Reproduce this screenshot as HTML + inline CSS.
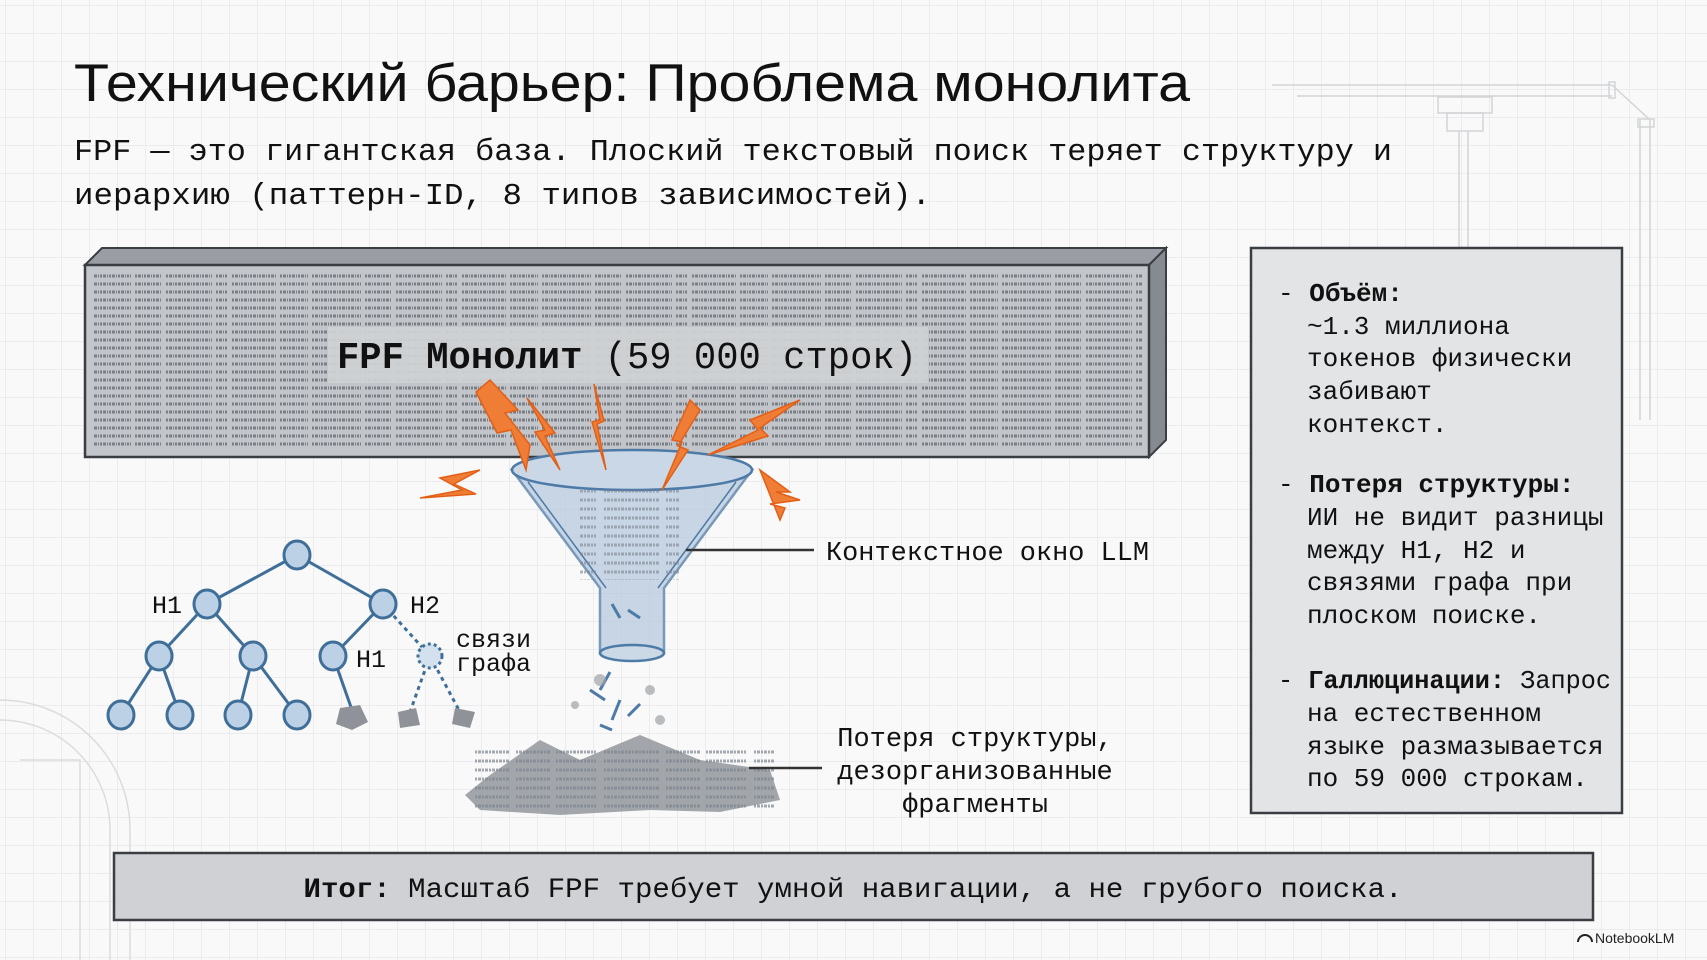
<!DOCTYPE html>
<html><head><meta charset="utf-8"><style>
html,body{margin:0;padding:0;background:#f9f9f9;}
svg{display:block}
.m{font-family:"Liberation Mono","DejaVu Sans Mono",monospace;}
.s{font-family:"Liberation Sans","DejaVu Sans",sans-serif;}
</style></head><body>
<svg width="1707" height="960" viewBox="0 0 1707 960" xmlns="http://www.w3.org/2000/svg">
<defs>
<pattern id="g" width="28" height="28" patternUnits="userSpaceOnUse" x="6" y="6">
<path d="M28 0V28H0" fill="none" stroke="#e3e4e6" stroke-width="1.2"/></pattern>
<pattern id="tx" width="230" height="8" patternUnits="userSpaceOnUse">
<rect width="230" height="8" fill="#c2c5ca"/>
<path d="M2 4H46M50 4H78M82 4H131M135 4H162M166 4H212M216 4H228" stroke="#7a7f86" stroke-width="3" stroke-dasharray="2 1 3 1 1 1"/></pattern>
<pattern id="tx2" width="150" height="9" patternUnits="userSpaceOnUse">
<path d="M4 5H60M66 5H100M106 5H146" stroke="#7d8590" stroke-width="3" stroke-dasharray="2 1 3 1"/></pattern>
</defs>
<rect width="1707" height="960" fill="#f9f9f9"/>
<rect width="1707" height="960" fill="url(#g)"/>
<g fill="none" stroke="#d2d4d6" stroke-width="1.5">
<path d="M1272 85H1612M1297 96H1612"/>
<rect x="1438" y="97" width="54" height="16"/><rect x="1447" y="113" width="36" height="18"/>
<path d="M1459 131V380M1468 131V380M1612 85L1650 120V420M1640 120V420"/>
<rect x="1609" y="82" width="6" height="16"/><rect x="1638" y="119" width="16" height="8"/>
</g>
<g fill="none" stroke="#dadcde" stroke-width="1.5">
<path d="M0 700A130 130 0 0 1 130 830V960M0 720A110 110 0 0 1 110 830V960M20 760H80V960"/>
</g>
<text x="74" y="101" class="s" font-size="53" fill="#111" textLength="1116" lengthAdjust="spacingAndGlyphs">Технический барьер: Проблема монолита</text>
<text x="74" y="160" class="m" font-size="31" fill="#111" textLength="1318" lengthAdjust="spacingAndGlyphs">FPF — это гигантская база. Плоский текстовый поиск теряет структуру и</text>
<text x="74" y="204" class="m" font-size="31" fill="#111" textLength="857" lengthAdjust="spacingAndGlyphs">иерархию (паттерн-ID, 8 типов зависимостей).</text>
<polygon points="85,265 102,248 1166,248 1149,265" fill="#9a9ea4" stroke="#3a3d42" stroke-width="2"/>
<polygon points="1149,265 1166,248 1166,440 1149,457" fill="#868a91" stroke="#3a3d42" stroke-width="2"/>
<rect x="85" y="265" width="1064" height="192" fill="#c2c5ca"/>
<rect x="93" y="270" width="1050" height="180" fill="url(#tx)"/>
<rect x="85" y="265" width="1064" height="192" fill="none" stroke="#3a3d42" stroke-width="2.5"/>
<rect x="328" y="327" width="600" height="56" fill="#cfd1d4" opacity="0.92"/>
<text x="337" y="368" class="m" font-size="38" fill="#111" textLength="580" lengthAdjust="spacingAndGlyphs"><tspan font-weight="bold">FPF Монолит</tspan> (59 000 строк)</text>
<path d="M512 470L600 588V653H664V588L752 470Z" fill="#b7c9dd" opacity="0.75" stroke="#4d7aa6" stroke-width="2.5"/>
<ellipse cx="632" cy="470" rx="120" ry="20" fill="#c9d7e6" stroke="#4d7aa6" stroke-width="2.5"/>
<path d="M528 482L606 588M736 482L658 588" stroke="#4d7aa6" stroke-width="1.5" fill="none"/>
<ellipse cx="632" cy="653" rx="32" ry="8" fill="#cbd8e6" stroke="#4d7aa6" stroke-width="2.5"/>
<rect x="580" y="490" width="100" height="90" fill="url(#tx2)" opacity="0.6"/>
<g fill="#ef7d36" stroke="#e35f16" stroke-width="1.5">
<polygon points="490,380 518,410 505,413 530,445 526,470 511,430 497,433 476,392"/>
<polygon points="527,398 545,430 535,432 560,470 545,436 555,433"/>
<polygon points="594,384 600,420 592,422 606,470 597,424 604,421"/>
<polygon points="690,400 672,440 682,442 662,490 688,450 678,446 700,410"/>
<polygon points="800,400 750,420 758,430 708,455 768,436 760,428"/>
<polygon points="480,470 440,478 462,490 420,498 476,494 454,484"/>
<polygon points="760,470 790,492 776,492 800,500 770,504 785,508 780,520 768,490"/>
</g>
<g stroke="#4d7aa6" stroke-width="3">
<path d="M612 604L620 618M628 610L640 618M610 672L600 690M590 690L605 700M620 700L612 720M628 716L640 704M600 725L612 730"/>
</g>
<g fill="#8c9096" opacity="0.8">
<polygon points="490,775 540,740 580,760 640,735 700,760 770,770 780,800 720,812 650,810 560,815 480,810 465,795"/>
</g>
<rect x="475" y="750" width="300" height="60" fill="url(#tx2)" opacity="0.7"/>
<g fill="#a0a4a9" opacity="0.7"><circle cx="600" cy="680" r="6"/><circle cx="650" cy="690" r="5"/><circle cx="575" cy="705" r="4"/><circle cx="660" cy="720" r="5"/></g>
<path d="M686 550H814M749 768H822" stroke="#333" stroke-width="2.5"/>
<text x="826" y="560" class="m" font-size="27" fill="#111" textLength="323" lengthAdjust="spacingAndGlyphs">Контекстное окно LLM</text>
<g class="m" font-size="27" fill="#111" text-anchor="middle">
<text x="975" y="746">Потеря структуры,</text>
<text x="975" y="779">дезорганизованные</text>
<text x="975" y="812">фрагменты</text>
</g>
<g stroke="#3f6f99" stroke-width="3" fill="none">
<path d="M297 555L207 604M297 555L383 604M207 604L159 656M207 604L253 656M383 604L333 656M159 656L121 715M159 656L180 715M253 656L238 715M253 656L297 715M333 656L352 710"/>
<path d="M383 604L430 656M430 656L410 712M430 656L460 712" stroke-dasharray="4 4"/>
</g>
<g fill="#bdd1e6" stroke="#3f6f99" stroke-width="3">
<ellipse cx="297" cy="555" rx="13" ry="14"/><ellipse cx="207" cy="604" rx="13" ry="14"/><ellipse cx="383" cy="604" rx="13" ry="14"/>
<ellipse cx="159" cy="656" rx="13" ry="14"/><ellipse cx="253" cy="656" rx="13" ry="14"/><ellipse cx="333" cy="656" rx="13" ry="14"/>
<ellipse cx="121" cy="715" rx="13" ry="14"/><ellipse cx="180" cy="715" rx="13" ry="14"/><ellipse cx="238" cy="715" rx="13" ry="14"/><ellipse cx="297" cy="715" rx="13" ry="14"/>
<ellipse cx="430" cy="656" rx="12" ry="12" stroke-dasharray="3 3" fill="#d3e0ee"/>
</g>
<g fill="#8f9399"><polygon points="340,708 360,705 368,722 352,730 336,724"/><polygon points="398,712 416,708 420,725 400,728"/><polygon points="455,708 475,712 470,728 452,724"/></g>
<g class="m" font-size="25" fill="#111">
<text x="152" y="613">H1</text><text x="410" y="613">H2</text><text x="356" y="667">H1</text>
<text x="456" y="647">связи</text><text x="456" y="671">графа</text>
</g>
<rect x="1251" y="248" width="371" height="565" fill="#e3e4e6" stroke="#3a3d42" stroke-width="2.5"/>
<g class="m" font-size="26" fill="#111">
<text x="1278" y="301">- <tspan font-weight="bold">Объём:</tspan></text>
<text x="1307" y="334">~1.3 миллиона</text>
<text x="1307" y="366">токенов физически</text>
<text x="1307" y="399">забивают</text>
<text x="1307" y="432">контекст.</text>
<text x="1278" y="492">- <tspan font-weight="bold">Потеря структуры:</tspan></text>
<text x="1307" y="525">ИИ не видит разницы</text>
<text x="1307" y="558">между H1, H2 и</text>
<text x="1307" y="590">связями графа при</text>
<text x="1307" y="623">плоском поиске.</text>
<text x="1278" y="688" textLength="333" lengthAdjust="spacingAndGlyphs">- <tspan font-weight="bold">Галлюцинации:</tspan> Запрос</text>
<text x="1307" y="721">на естественном</text>
<text x="1307" y="754">языке размазывается</text>
<text x="1307" y="786">по 59 000 строкам.</text>
</g>
<rect x="114" y="853" width="1479" height="67" fill="#cfd1d5" stroke="#3a3d42" stroke-width="2.5"/>
<text x="853" y="897" class="m" font-size="28" fill="#111" text-anchor="middle" textLength="1099" lengthAdjust="spacingAndGlyphs"><tspan font-weight="bold">Итог:</tspan> Масштаб FPF требует умной навигации, а не грубого поиска.</text>
<path d="M1578 942a7 7 0 0 1 14 0" fill="none" stroke="#222" stroke-width="2"/>
<text x="1595" y="943" class="s" font-size="14" fill="#222">NotebookLM</text>
</svg>
</body></html>
